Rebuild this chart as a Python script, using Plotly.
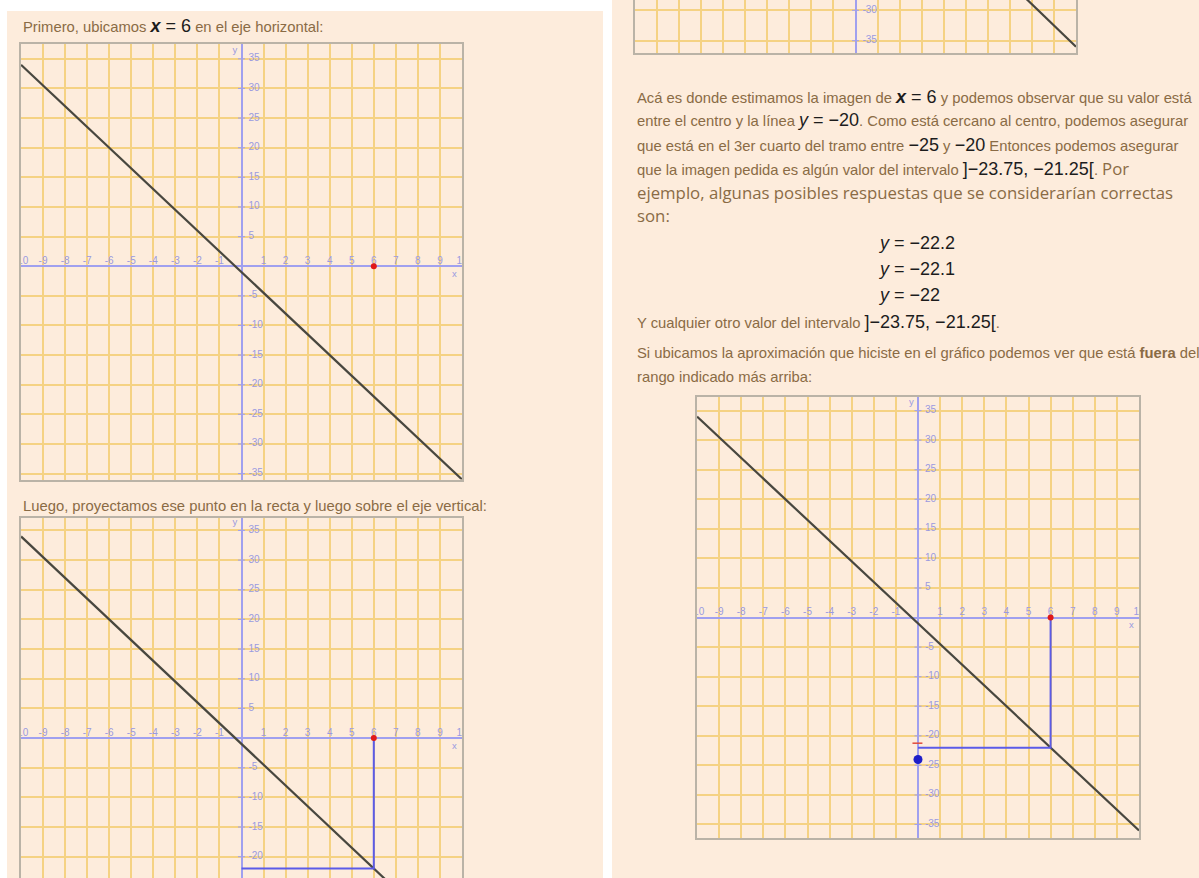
import plotly.graph_objects as go

W, H = 1199, 878

# --- Data ---
line_x = [-10, 10]
line_y = [34, -36]

point_x = [6]
point_y = [0]

proj_x = [6, 6, 0]
proj_y = [0, -22, -22]

guess_x = [0]
guess_y = [-24]

bound_x = [-0.25, 0.2]
bound_y = [-21.25, -21.25]

x_ticks = [-10, -9, -8, -7, -6, -5, -4, -3, -2, -1, 1, 2, 3, 4, 5, 6, 7, 8, 9, 10]
y_ticks = [-35, -30, -25, -20, -15, -10, -5, 5, 10, 15, 20, 25, 30, 35]

# --- Colours ---
TEXT = "#8a6b45"
PANEL = "#fdecdc"
PLOT_BG = "#fffbe2"
GRID = "#f5d283"
AXIS = "#a0a0ef"
FRAME = "#bab3a7"
TICK_TXT = "#9a9ae0"


def fx(px):
    return px / W


def fy(py):
    return 1 - py / H


# chart boxes in page pixels: (left, right, top, bottom), y range, extras
charts = [
    dict(box=(21, 462, 44, 479.5), yr=[-36, 37.5], proj=False, guess=False, frame="all"),
    dict(box=(21, 462, 518, 878), yr=[-23.6, 37.1], proj=True, guess=False, frame="top"),
    dict(box=(697, 1139, 397, 837.5), yr=[-37.2, 37.3], proj=True, guess=True, frame="all"),
    dict(box=(635, 1076, 0, 52.5), yr=[-36.95, -28.3], proj=False, guess=False, frame="bottom"),
]

fig = go.Figure()
layout = {}

for i, c in enumerate(charts, start=1):
    xa, ya = f"x{i}", f"y{i}"
    left, right, top, bottom = c["box"]
    lo, hi = c["yr"]
    layout[f"xaxis{i}"] = dict(
        domain=[fx(left), fx(right)], range=[-10, 10], anchor=ya,
        dtick=1, tick0=0, showgrid=True, gridcolor=GRID, gridwidth=1.5,
        zeroline=True, zerolinecolor=AXIS, zerolinewidth=1.5,
        showticklabels=False, ticks="",
        showline=True, linecolor=FRAME, linewidth=1.5,
        mirror=c["frame"] == "all", side="top" if c["frame"] == "top" else "bottom",
        fixedrange=True,
    )
    layout[f"yaxis{i}"] = dict(
        domain=[fy(bottom), fy(top)], range=c["yr"], anchor=xa,
        dtick=5, tick0=0, showgrid=True, gridcolor=GRID, gridwidth=1.5,
        zeroline=True, zerolinecolor=AXIS, zerolinewidth=1.5,
        showticklabels=False, ticks="",
        showline=True, linecolor=FRAME, linewidth=1.5, mirror=True,
        fixedrange=True,
    )

    # tick labels along the axes (only those that fall inside the window)
    if lo < 0 < hi:
        fig.add_trace(go.Scatter(
            x=x_ticks, y=[0] * len(x_ticks), text=[str(t) for t in x_ticks],
            mode="text", textposition="top center", cliponaxis=True,
            textfont=dict(family="Liberation Sans", size=10, color=TICK_TXT),
            xaxis=xa, yaxis=ya, hoverinfo="skip",
        ))
    yt = [t for t in y_ticks if lo + 0.5 < t < hi - 0.5]
    fig.add_trace(go.Scatter(
        x=[0] * len(yt), y=yt, text=[" " + str(t) for t in yt],
        mode="text+markers", textposition="middle right", cliponaxis=True,
        marker=dict(symbol="line-ew", size=5, line=dict(color=AXIS, width=1)),
        textfont=dict(family="Liberation Sans", size=10, color=TICK_TXT),
        xaxis=xa, yaxis=ya, hoverinfo="skip",
    ))
    lab_x, lab_y, lab_t = [], [], []
    for lx, ly, lt in [(-0.3, 36.4, "y"), (9.65, -1.4, "x")]:
        if lo < ly < hi:
            lab_x.append(lx)
            lab_y.append(ly)
            lab_t.append(lt)
    if lab_t:
        fig.add_trace(go.Scatter(
            x=lab_x, y=lab_y, text=lab_t, mode="text",
            cliponaxis=True, textposition="middle center",
            textfont=dict(family="Liberation Sans", size=9.5, color=TICK_TXT),
            xaxis=xa, yaxis=ya, hoverinfo="skip",
        ))

    # the line
    fig.add_trace(go.Scatter(
        x=line_x, y=line_y, mode="lines",
        line=dict(color="#48473f", width=2.2),
        xaxis=xa, yaxis=ya, hoverinfo="skip",
    ))

    if c["proj"]:
        fig.add_trace(go.Scatter(
            x=proj_x, y=proj_y, mode="lines",
            line=dict(color="#5b5be8", width=2),
            xaxis=xa, yaxis=ya, hoverinfo="skip",
        ))
    if c["guess"]:
        fig.add_trace(go.Scatter(
            x=bound_x, y=bound_y, mode="lines",
            line=dict(color="#e04a3a", width=1.5),
            xaxis=xa, yaxis=ya, hoverinfo="skip",
        ))
        fig.add_trace(go.Scatter(
            x=guess_x, y=guess_y, mode="markers",
            marker=dict(color="#1e1ec8", size=9),
            xaxis=xa, yaxis=ya, hoverinfo="skip",
        ))
    if lo < 0 < hi:
        fig.add_trace(go.Scatter(
            x=point_x, y=point_y, mode="markers", cliponaxis=False,
            marker=dict(color="#e01818", size=6),
            xaxis=xa, yaxis=ya, hoverinfo="skip",
        ))


# --- Page text ---
def m(s, size=18):
    return f'<span style="font-size:{size}px;color:#1c1c1c">{s}</span>'


def os(s):
    return f'<span style="font-family:Open Sans;font-size:16.8px">{s}</span>'


lines = [
    (21, 26, f"Primero, ubicamos {m('<b><i>x</i></b> = 6')} en el eje horizontal:"),
    (21, 506, "Luego, proyectamos ese punto en la recta y luego sobre el eje vertical:"),
    (635, 97, f"Acá es donde estimamos la imagen de {m('<b><i>x</i></b> = 6')} y podemos observar que su valor está"),
    (635, 120, f"entre el centro y la línea {m('<i>y</i> = −20')}. Como está cercano al centro, podemos asegurar"),
    (635, 145, f"que está en el 3er cuarto del tramo entre {m('−25')} y {m('−20')} Entonces podemos asegurar"),
    (635, 169, f"que la imagen pedida es algún valor del intervalo {m(']−23.75, −21.25[')}. {os('Por')}"),
    (635, 193, os("ejemplo, algunas posibles respuestas que se considerarían correctas")),
    (635, 216, os("son:")),
    (876, 243, m("<i>y</i> = −22.2")),
    (876, 269, m("<i>y</i> = −22.1")),
    (876, 295, m("<i>y</i> = −22")),
    (635, 322, f"Y cualquier otro valor del intervalo {m(']−23.75, −21.25[')}."),
    (635, 353, "Si ubicamos la aproximación que hiciste en el gráfico podemos ver que está <b>fuera</b> del"),
    (635, 377, "rango indicado más arriba:"),
]

annotations = [
    dict(x=fx(px), y=fy(py), xref="paper", yref="paper", text=t,
         xanchor="left", yanchor="middle", showarrow=False,
         font=dict(family="Liberation Sans", size=14.8, color=TEXT))
    for px, py, t in lines
]

shapes = [
    dict(type="rect", xref="paper", yref="paper", layer="below",
         x0=fx(7), x1=fx(603), y0=fy(878), y1=fy(11),
         fillcolor=PANEL, line=dict(width=0)),
    dict(type="rect", xref="paper", yref="paper", layer="below",
         x0=fx(612), x1=fx(1199), y0=fy(878), y1=fy(0),
         fillcolor=PANEL, line=dict(width=0)),
]

fig.update_layout(
    width=W, height=H, margin=dict(l=0, r=0, t=0, b=0),
    paper_bgcolor="#ffffff", plot_bgcolor=PLOT_BG,
    showlegend=False, annotations=annotations, shapes=shapes,
    **layout,
)

fig.write_html(
    "out.html",
    config={"displayModeBar": False},
    post_script="document.body.style.margin='0';document.body.style.overflow='hidden';",
)
